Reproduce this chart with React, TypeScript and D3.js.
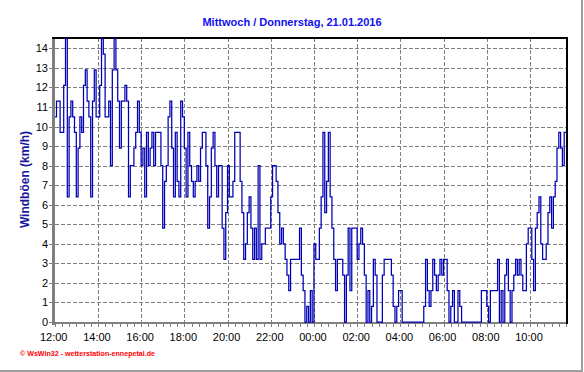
import React from "react";
import * as d3 from "d3";

const TITLE = "Mittwoch / Donnerstag, 21.01.2016";
const Y_LABEL = "Windböen (km/h)";
const FOOTER = "© WsWin32 - wetterstation-ennepetal.de";
const START = "2016-01-20T12:00:00";
const END = "2016-01-21T11:40:00";
const STEP_MINUTES = 5;
const Y_MAX = 14.58;

const xTickLabels = ["12:00", "14:00", "16:00", "18:00", "20:00", "22:00", "00:00", "02:00", "04:00", "06:00", "08:00", "10:00"];
const yTicks = [0, 1, 2, 3, 4, 5, 6, 7, 8, 9, 10, 11, 12, 13, 14];

// wind gusts (km/h), one value every 5 minutes starting 12:00
const gusts = [
  10.5, 11.3, 11.3, 9.7, 9.7, 12.1, 14.5, 6.4, 10.5, 11.3, 10.5, 9.7,
  6.4, 8.9, 10.5, 9.7, 12.1, 12.9, 11.3, 10.5, 6.4, 11.3, 12.9, 10.5,
  10.5, 12.1, 14.5, 13.7, 10.5, 10.5, 11.3, 8.0, 12.9, 14.5, 12.9, 11.3,
  8.9, 11.3, 11.3, 12.1, 11.3, 6.4, 8.0, 8.0, 8.9, 9.7, 11.3, 9.7,
  8.0, 8.9, 6.4, 9.7, 8.0, 8.9, 9.7, 8.0, 9.7, 9.7, 9.7, 8.0,
  4.8, 7.2, 8.0, 10.5, 11.3, 8.9, 6.4, 9.7, 7.2, 6.4, 11.3, 10.5,
  8.9, 6.4, 9.7, 8.0, 7.2, 6.4, 7.2, 8.0, 7.2, 8.9, 9.7, 9.7,
  8.0, 4.8, 6.4, 8.9, 9.7, 8.0, 6.4, 8.0, 8.0, 4.8, 3.2, 5.6,
  8.0, 6.4, 6.4, 7.2, 9.7, 9.7, 9.7, 7.2, 5.6, 3.2, 4.0, 5.6,
  6.4, 4.8, 3.2, 4.8, 3.2, 8.0, 3.2, 4.0, 4.0, 4.8, 4.8, 4.8,
  6.4, 8.0, 8.0, 7.2, 5.6, 4.0, 4.8, 4.0, 3.2, 2.4, 1.6, 3.2,
  3.2, 3.2, 3.2, 3.2, 4.8, 2.4, 1.6, 0, 0.8, 0, 1.6, 0,
  4.0, 3.2, 3.2, 4.8, 6.4, 9.7, 5.6, 7.2, 9.7, 6.4, 4.8, 3.2,
  1.6, 3.2, 3.2, 3.2, 2.4, 0, 2.4, 4.8, 1.6, 4.8, 4.8, 4.8,
  3.2, 4.0, 4.8, 4.0, 2.4, 0, 1.6, 0, 0.8, 3.2, 2.4, 0,
  0, 0, 2.4, 3.2, 3.2, 3.2, 3.2, 2.4, 0.8, 0, 0.8, 1.6,
  1.6, 0, 0, 0, 0, 0, 0, 0, 0, 0, 0, 0,
  0, 0.8, 3.2, 1.6, 0.8, 1.6, 3.2, 2.4, 1.6, 2.4, 3.2, 2.4,
  3.2, 3.2, 1.6, 0, 0.8, 1.6, 0, 0, 1.6, 0.8, 0, 0,
  0, 0, 0, 0, 0, 0, 0, 0, 0, 1.6, 1.6, 1.6,
  0.8, 0, 1.6, 1.6, 1.6, 1.6, 3.2, 0, 1.6, 0, 2.4, 3.2,
  1.6, 0, 1.6, 2.4, 3.2, 2.4, 3.2, 2.4, 1.6, 1.6, 4.0, 4.8,
  4.8, 3.2, 1.6, 4.8, 5.6, 6.4, 4.0, 3.2, 3.2, 4.0, 5.6, 6.4,
  4.8, 6.4, 7.2, 8.9, 9.7, 8.9, 8.0, 9.7,
];

const FONT = "'Liberation Sans', Arial, sans-serif";

export default function App() {
  const W = 584;
  const H = 372;
  const X0 = 54.7, X1 = 566;
  const Y0 = 322, Y1 = 37;
  const start = new Date(START);
  const end = new Date(END);
  const x = d3.scaleTime().domain([start, end]).range([X0, X1]);
  const y = d3.scaleLinear().domain([0, Y_MAX]).range([Y0, Y1]);

  const pts = gusts.map((v, i) => ({ t: d3.timeMinute.offset(start, i * STEP_MINUTES), v }));
  pts.push({ t: end, v: gusts[gusts.length - 1] });
  const line = d3
    .line<{ t: Date; v: number }>()
    .x((d) => x(d.t))
    .y((d) => y(d.v))
    .curve(d3.curveStepAfter);

  const majorTicks = x.ticks(d3.timeHour.every(2)!);
  const minorTicks = x.ticks(d3.timeMinute.every(20)!);
  const crisp = (v: number) => Math.round(v) + 0.5;

  return (
    <div style={{ position: "fixed", left: 0, top: 0, width: W, height: H, background: "#fff" }}>
      <svg width={W} height={H} style={{ display: "block" }}>
        <rect x={0} y={0} width={W} height={H} fill="#fff" />
        {/* panel border */}
        <rect x={581} y={0} width={2} height={372} fill="#a0a0a0" />
        <rect x={0} y={370} width={583} height={2} fill="#a0a0a0" />

        <text x={292} y={26} textAnchor="middle" fontFamily={FONT} fontWeight="bold" fontSize={11} fill="#1010f0">
          {TITLE}
        </text>

        {/* grid */}
        {yTicks.filter((v) => v > 0).map((v) => (
          <line key={"gy" + v} x1={55} x2={566} y1={crisp(y(v))} y2={crisp(y(v))} stroke="#808080" strokeDasharray="4,2" strokeWidth={1} />
        ))}
        {majorTicks.slice(1).map((t, i) => (
          <line key={"gx" + i} x1={crisp(x(t))} x2={crisp(x(t))} y1={38} y2={322} stroke="#808080" strokeDasharray="4,2" strokeWidth={1} />
        ))}

        <defs>
          <clipPath id="plotclip">
            <rect x={55} y={37} width={X1 - 55} height={Y0 - 37 + 2} />
          </clipPath>
        </defs>

        {/* axes */}
        <rect x={52} y={37} width={3} height={288} fill="#808080" />
        <rect x={52} y={322} width={515} height={2} fill="#808080" />
        {yTicks.map((v) => (
          <line key={"ty" + v} x1={49} x2={52} y1={crisp(y(v))} y2={crisp(y(v))} stroke="#808080" />
        ))}
        {minorTicks.map((t, i) => (
          <line key={"tx" + i} x1={crisp(x(t))} x2={crisp(x(t))} y1={324} y2={327} stroke="#808080" />
        ))}
        {/* frame top & right */}
        <rect x={52} y={37} width={516} height={2} fill="#000" />
        <rect x={566} y={37} width={2} height={287} fill="#000" />

        <path d={line(pts) || ""} fill="none" stroke="#0000b4" strokeWidth={1.25} clipPath="url(#plotclip)" />

        {/* tick labels */}
        {yTicks.map((v) => (
          <text key={"ly" + v} x={48} y={y(v) + 4} textAnchor="end" fontFamily={FONT} fontSize={11} fill="#000">
            {v}
          </text>
        ))}
        {majorTicks.map((t, i) => (
          <text key={"lx" + i} x={x(t) - 1} y={340.5} textAnchor="middle" fontFamily={FONT} fontSize={11} fill="#000">
            {xTickLabels[i]}
          </text>
        ))}

        <text
          transform={`translate(29, ${(Y0 + Y1) / 2}) rotate(-90)`}
          textAnchor="middle"
          fontFamily={FONT}
          fontWeight="bold"
          fontSize={12}
          fill="#1818a0"
        >
          {Y_LABEL}
        </text>

        <text x={20} y={356} fontFamily={FONT} fontWeight="bold" fontSize={7} fill="#ff0000" textLength={135} lengthAdjust="spacingAndGlyphs">
          {FOOTER}
        </text>
      </svg>
    </div>
  );
}
